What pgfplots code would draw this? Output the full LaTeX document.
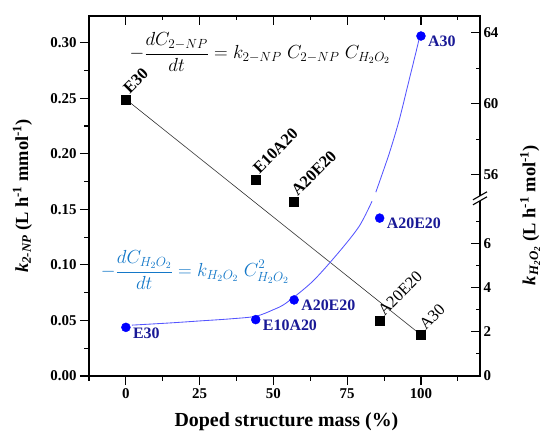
\RequirePackage{fix-cm}
\documentclass[border=0pt]{standalone}
\usepackage{fontspec}
\setmainfont{Liberation Serif}
\usepackage{pgfplots}
\pgfplotsset{compat=1.18}

\definecolor{ptblue}{RGB}{0,0,255}
\definecolor{labblue}{RGB}{25,25,150}
\definecolor{fitblue}{RGB}{85,85,255}
\definecolor{eqblue}{RGB}{20,120,200}

\newcommand{\fs}[1]{\fontsize{#1}{#1}\selectfont}

\begin{document}
\begin{tikzpicture}
\pgfplotsset{
  base/.style={
    scale only axis, width=391bp, height=360bp,
    xmin=-12.5, xmax=120,
    xtick={0,25,50,75,100},
    minor xtick={-12.5,12.5,37.5,62.5,87.5,112.5},
    major tick length=9bp, minor tick length=4.5bp,
    axis line style={line width=1.3bp},
    every tick/.style={black, line width=1.1bp},
    tick label style={font=\fs{15}\bfseries},
    /pgf/number format/assume math mode=true,
    clip=false,
  },
}

% left axis: k 2-NP
\begin{axis}[base,
  ymin=0, ymax=0.324,
  ytick={0,0.05,0.10,0.15,0.20,0.25,0.30},
  minor ytick={0.025,0.075,0.125,0.175,0.225,0.275},
  yticklabel style={/pgf/number format/.cd, fixed, fixed zerofill, precision=2},
  xtick pos=left, ytick pos=left, tick align=outside,
  xlabel={\textbf{Doped structure mass (\%)}},
  xlabel style={font=\fs{20}, at={(axis description cs:0.505,-0.128)}, anchor=center},
  ylabel={\textbf{\textit{k}\textsubscript{\textit{2-NP}} (L h\textsuperscript{-1} mmol\textsuperscript{-1})}},
  ylabel style={font=\fs{18.5}, at={(axis description cs:-0.170,0.5)}, anchor=center},
]
\coordinate (sw) at (rel axis cs:0,0);
\coordinate (ne) at (rel axis cs:1,1);

\addplot[black!80, line width=0.6bp] coordinates {(0,0.249) (100,0.037)};

\addplot[only marks, mark=square*, mark size=4.5bp, black,
  nodes near coords, point meta=explicit symbolic,
  nodes near coords style={anchor=south west, xshift=4bp, yshift=3bp, rotate=45,
    font=\fs{16.5}\bfseries, inner sep=1bp, text=black}]
  coordinates {(0,0.249)[E30] (44,0.177)[E10A20] (57,0.157)[A20E20]};

\addplot[only marks, mark=square*, mark size=4.5bp, black,
  nodes near coords, point meta=explicit symbolic,
  nodes near coords style={anchor=south west, xshift=5bp, yshift=2bp, rotate=45,
    font=\fs{16.5}, inner sep=1bp, text=black}]
  coordinates {(86,0.050)[A20E20] (100,0.0376)[A30]};

\node[font=\fs{19}] at (axis description cs:0.437,0.9)
  {$\displaystyle -\frac{dC_{2-NP}}{dt} = k_{2-NP}\; C_{2-NP}\; C_{H_2O_2}$};
\node[font=\fs{19}, text=eqblue] at (axis description cs:0.271,0.294)
  {$\displaystyle -\frac{dC_{H_2O_2}}{dt} = k_{H_2O_2}\; C^2_{H_2O_2}$};
\end{axis}

% right axis: k H2O2, broken between 8 and 54.63
\begin{axis}[base,
  ymin=0, ymax=16.28,
  y filter/.expression={y<30 ? y : 8+(y-54.63)*0.8025},
  ytick={0,2,4,6,9.10,12.31,15.52},
  yticklabels={0,2,4,6,56,60,64},
  minor ytick={1,3,5,7,10.71,13.92},
  xtick pos=right, xticklabels={},
  ytick pos=right, yticklabel pos=right, tick align=inside,
  ylabel={\textbf{\textit{k}\textsubscript{\textit{H\textsubscript{2}O\textsubscript{2}}} (L h\textsuperscript{-1} mol\textsuperscript{-1})}},
  ylabel style={font=\fs{18.5}, at={(axis description cs:1.128,0.447)}, anchor=center},
]
\coordinate (brk) at (rel axis cs:1,0.4936);

\addplot[fitblue, line width=0.85bp, smooth] coordinates {
  (2,2.30) (15,2.40) (25,2.49) (35,2.58) (44,2.70) (50,3.00) (54.3,3.30)
  (63.3,4.28) (72.3,5.62) (79.1,6.78) (83.4,7.90)};
\addplot[fitblue, line width=0.85bp, smooth] coordinates {
  (84.7,55.02) (89.2,57.18) (92.6,59.07) (95.4,60.95) (98.2,62.84) (99.6,63.81)};

\addplot[only marks, mark=*, mark size=4.5bp, ptblue,
  nodes near coords, point meta=explicit symbolic,
  nodes near coords style={anchor=north west, xshift=6bp, yshift=1bp,
    text=labblue, font=\fs{16}\bfseries, inner sep=1bp}]
  coordinates {(0,2.2)[E30] (44,2.55)[E10A20] (57,3.44)[A20E20]
    (86,7.14)[A20E20] (100,63.82)[A30]};
\end{axis}

% axis break mark
\fill[white] ([shift={(-7bp,-6.5bp)}]brk) -- ([shift={(7bp,1.5bp)}]brk)
  -- ([shift={(7bp,6.5bp)}]brk) -- ([shift={(-7bp,-1.5bp)}]brk) -- cycle;
\draw[line width=1.1bp] ([shift={(-7bp,-6.5bp)}]brk) -- ([shift={(7bp,1.5bp)}]brk);
\draw[line width=1.1bp] ([shift={(-7bp,-1.5bp)}]brk) -- ([shift={(7bp,6.5bp)}]brk);

\pgfresetboundingbox
\path ([shift={(-89bp,-67bp)}]sw) rectangle ([shift={(70bp,16bp)}]ne);
\end{tikzpicture}
\end{document}
